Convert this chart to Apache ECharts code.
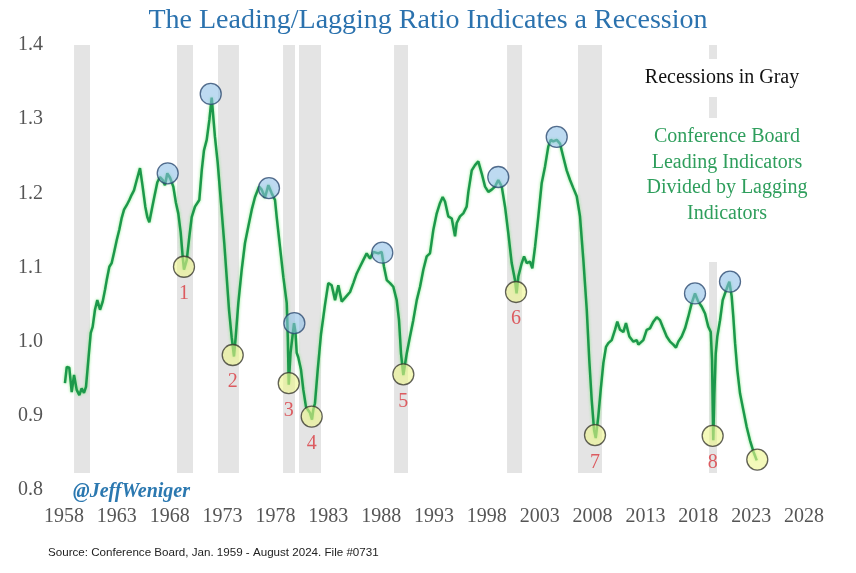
<!DOCTYPE html>
<html>
<head>
<meta charset="utf-8">
<script src="https://cdn.jsdelivr.net/npm/echarts@6/dist/echarts.min.js"></script>
<style>
  html, body { margin: 0; padding: 0; background: #ffffff; }
  #chart { width: 856px; height: 573px; }
</style>
</head>
<body>
<div id="chart"></div>
<script>
// ---- Data ----
const years = [
  1958.09,1958.26,1958.50,1958.73,1958.95,1959.20,1959.45,1959.67,1959.89,1960.08,
  1960.30,1960.53,1960.71,1960.93,1961.15,1961.41,1961.66,1961.88,1962.04,1962.29,
  1962.51,1962.73,1962.99,1963.23,1963.46,1963.68,1963.93,1964.18,1964.40,1964.62,
  1964.88,1965.19,1965.44,1965.69,1965.88,1966.07,1966.30,1966.54,1966.83,1967.08,
  1967.34,1967.55,1967.77,1968.03,1968.34,1968.59,1968.81,1969.04,1969.23,1969.35,
  1969.61,1969.85,1970.08,1970.39,1970.80,1971.03,1971.24,1971.50,1971.75,1971.97,
  1972.28,1972.54,1972.85,1973.16,1973.39,1973.61,1973.86,1974.08,1974.24,1974.49,
  1974.81,1975.12,1975.43,1975.76,1976.07,1976.45,1976.70,1977.01,1977.33,1977.65,
  1977.96,1978.12,1978.43,1978.75,1979.07,1979.17,1979.26,1979.43,1979.76,1979.90,
  1980.01,1980.16,1980.42,1980.64,1980.89,1981.27,1981.46,1981.58,1981.74,1982.00,
  1982.31,1982.69,1983.00,1983.32,1983.64,1983.95,1984.27,1984.58,1985.06,1985.37,
  1985.69,1986.00,1986.31,1986.63,1986.95,1987.26,1987.73,1988.05,1988.27,1988.53,
  1988.84,1989.15,1989.47,1989.69,1989.88,1990.10,1990.42,1990.73,1991.04,1991.37,
  1991.68,1991.99,1992.31,1992.62,1992.94,1993.26,1993.57,1993.82,1994.04,1994.35,
  1994.68,1994.99,1995.15,1995.46,1995.77,1996.09,1996.25,1996.57,1996.88,1997.19,
  1997.51,1997.83,1998.14,1998.46,1998.77,1999.08,1999.41,1999.72,2000.03,2000.35,
  2000.66,2000.81,2000.98,2001.30,2001.52,2001.77,2002.08,2002.30,2002.56,2002.87,
  2003.19,2003.50,2003.81,2004.04,2004.29,2004.61,2004.92,2005.23,2005.55,2005.87,
  2006.18,2006.50,2006.81,2007.13,2007.45,2007.69,2007.92,2008.14,2008.30,2008.54,
  2008.77,2009.02,2009.27,2009.49,2009.81,2010.12,2010.34,2010.60,2010.91,2011.16,
  2011.48,2011.86,2012.18,2012.33,2012.80,2013.12,2013.43,2013.75,2014.07,2014.38,
  2014.63,2015.01,2015.33,2015.64,2015.89,2016.11,2016.43,2016.75,2017.06,2017.38,
  2017.69,2018.00,2018.33,2018.64,2018.95,2019.18,2019.30,2019.37,2019.42,2019.52,
  2019.65,2019.80,2020.06,2020.31,2020.53,2020.75,2020.94,2021.16,2021.31,2021.48,
  2021.69,2021.95,2022.26,2022.58,2022.89,2023.21,2023.53
];
const ratio = [
  0.944,0.966,0.965,0.932,0.955,0.935,0.928,0.937,0.931,0.939,
  0.975,1.012,1.020,1.043,1.056,1.043,1.054,1.070,1.083,1.101,
  1.106,1.120,1.137,1.151,1.167,1.178,1.184,1.191,1.198,1.204,
  1.218,1.234,1.209,1.182,1.168,1.161,1.178,1.195,1.215,1.222,
  1.218,1.211,1.227,1.221,1.209,1.187,1.173,1.147,1.114,1.097,
  1.110,1.141,1.168,1.182,1.191,1.231,1.258,1.272,1.299,1.329,
  1.276,1.241,1.187,1.133,1.087,1.043,1.006,0.980,1.006,1.052,
  1.097,1.133,1.155,1.178,1.195,1.209,1.205,1.194,1.211,1.200,
  1.191,1.168,1.128,1.087,1.052,1.006,0.942,0.985,1.025,1.012,
  0.985,0.979,0.962,0.935,0.912,0.904,0.895,0.908,0.917,0.962,
  1.010,1.050,1.079,1.076,1.056,1.076,1.054,1.059,1.067,1.079,
  1.092,1.101,1.110,1.119,1.112,1.121,1.119,1.121,1.101,1.083,
  1.079,1.074,1.056,1.029,0.984,0.955,0.984,1.007,1.029,1.056,
  1.074,1.097,1.115,1.119,1.151,1.173,1.187,1.195,1.189,1.169,
  1.166,1.142,1.160,1.169,1.173,1.182,1.202,1.231,1.238,1.243,
  1.227,1.209,1.202,1.205,1.209,1.218,1.209,1.182,1.146,1.106,
  1.083,1.065,1.088,1.106,1.115,1.106,1.108,1.099,1.128,1.169,
  1.214,1.236,1.263,1.272,1.270,1.272,1.267,1.249,1.231,1.218,
  1.207,1.196,1.169,1.110,1.043,0.975,0.921,0.881,0.870,0.899,
  0.935,0.971,0.993,0.998,1.002,1.016,1.027,1.016,1.013,1.025,
  1.007,1.000,1.002,0.996,1.002,1.016,1.018,1.027,1.033,1.029,
  1.020,1.007,1.000,0.996,0.992,1.000,1.007,1.018,1.034,1.052,
  1.065,1.054,1.047,1.038,1.020,1.013,0.975,0.908,0.867,0.930,
  0.984,1.007,1.029,1.056,1.065,1.074,1.081,1.061,1.034,0.998,
  0.962,0.930,0.908,0.885,0.867,0.852,0.840
];

// Recession bands (start / end, in years)
const recStart = [1958.95, 1968.69, 1972.57, 1978.72, 1980.23, 1989.22, 1999.91, 2006.62, 2019.02];
const recEnd   = [1960.46, 1970.20, 1974.55, 1979.85, 1982.31, 1990.54, 2001.33, 2008.89, 2019.77];
const bandTop = 1.4;
const bandBottom = 0.823;

// Peak markers (blue)
const peakYears = [1967.81, 1971.88, 1977.39, 1979.79, 1988.11, 1999.08, 2004.61, 2017.69, 2021.00];
const peakVals  = [1.227, 1.334, 1.207, 1.025, 1.120, 1.222, 1.276, 1.065, 1.081];

// Trough markers (yellow) with labels
const troughYears  = [1969.35, 1973.96, 1979.26, 1981.43, 1990.10, 2000.76, 2008.23, 2019.36, 2023.58];
const troughVals   = [1.101, 0.982, 0.944, 0.899, 0.956, 1.067, 0.874, 0.873, 0.841];
const troughLabels = ['1', '2', '3', '4', '5', '6', '7', '8', ''];

// Axis ticks
const xMin = 1958, xMax = 2028, xStep = 5;
const yMin = 0.8, yMax = 1.4, yStep = 0.1;

// Texts
const titleText = 'The Leading/Lagging Ratio Indicates a Recession';
const recessText = 'Recessions in Gray';
const noteText = 'Conference Board\nLeading Indicators\nDivided by Lagging\nIndicators';
const handleText = '@JeffWeniger';
const sourceText = 'Source: Conference Board, Jan. 1959 - August 2024. File #0731';

// ---- Chart ----
const serif = "'Liberation Serif', 'DejaVu Serif', serif";
const chart = echarts.init(document.getElementById('chart'), null, { renderer: 'canvas' });

const lineData = years.map((y, i) => [y, ratio[i]]);
const bandData = recStart.map((s, i) => [s, recEnd[i]]);
const peakData = peakYears.map((y, i) => [y, peakVals[i]]);
const troughData = troughYears.map((y, i) => ({ value: [y, troughVals[i]], name: troughLabels[i] }));

const option = {
  backgroundColor: '#ffffff',
  animation: false,
  grid: { left: 64, right: 52, top: 45, bottom: 83, containLabel: false },
  xAxis: {
    type: 'value', min: xMin, max: xMax, interval: xStep,
    axisLine: { show: false }, axisTick: { show: false }, splitLine: { show: false },
    axisLabel: { color: '#555555', fontFamily: serif, fontSize: 20, margin: 17,
      formatter: v => String(Math.round(v)) }
  },
  yAxis: {
    type: 'value', min: yMin, max: yMax, interval: yStep,
    axisLine: { show: false }, axisTick: { show: false }, splitLine: { show: false },
    axisLabel: { color: '#555555', fontFamily: serif, fontSize: 20, margin: 21,
      formatter: v => v.toFixed(1) }
  },
  series: [
    {
      type: 'custom', z: 1, silent: true,
      data: bandData,
      renderItem: function (params, api) {
        const p0 = api.coord([api.value(0), bandTop]);
        const p1 = api.coord([api.value(1), bandBottom]);
        return {
          type: 'rect',
          shape: { x: p0[0], y: p0[1], width: p1[0] - p0[0], height: p1[1] - p0[1] },
          style: { fill: '#e4e4e4' }
        };
      },
      encode: { x: [0, 1] }
    },
    {
      type: 'line', z: 3, data: lineData, showSymbol: false, silent: true,
      lineStyle: { color: '#1c984b', width: 2.5, shadowColor: 'rgba(110,230,110,0.8)', shadowBlur: 3 }
    },
    {
      type: 'scatter', z: 4, data: peakData, symbol: 'circle', symbolSize: 21, silent: true,
      itemStyle: { color: 'rgba(140,190,230,0.72)', borderColor: '#2c4a70', borderWidth: 1.3 }
    },
    {
      type: 'scatter', z: 4, data: troughData, symbol: 'circle', symbolSize: 21, silent: true,
      itemStyle: { color: 'rgba(236,245,140,0.75)', borderColor: '#3a3a30', borderWidth: 1.3 },
      label: {
        show: true, position: 'bottom', distance: 6,
        formatter: p => p.name,
        color: '#d9383e', fontFamily: serif, fontSize: 20
      }
    }
  ],
  graphic: [
    { type: 'text', z: 100, left: 'center', top: 7,
      style: { text: titleText, fill: '#2b72ae', font: "28px 'Liberation Serif', serif" } },
    { type: 'text', z: 100, x: 722, y: 78,
      style: { text: recessText, fill: '#111111', font: "20px 'Liberation Serif', serif",
        align: 'center', verticalAlign: 'middle', backgroundColor: '#ffffff', padding: [9, 10, 9, 10] } },
    { type: 'text', z: 100, x: 727, y: 118,
      style: { text: noteText, fill: '#2e9e5c', font: "20px 'Liberation Serif', serif",
        lineHeight: 25.5, align: 'center', verticalAlign: 'top', backgroundColor: '#ffffff',
        padding: [6, 12, 36, 12] } },
    { type: 'text', z: 100, x: 73, y: 492,
      style: { text: handleText, fill: '#2b78b0', font: "italic bold 20px 'Liberation Serif', serif",
        verticalAlign: 'middle' } },
    { type: 'text', z: 100, x: 48, y: 553,
      style: { text: sourceText, fill: '#222222', font: "11.6px 'Liberation Sans', sans-serif",
        verticalAlign: 'middle' } }
  ]
};
chart.setOption(option);
</script>
</body>
</html>
